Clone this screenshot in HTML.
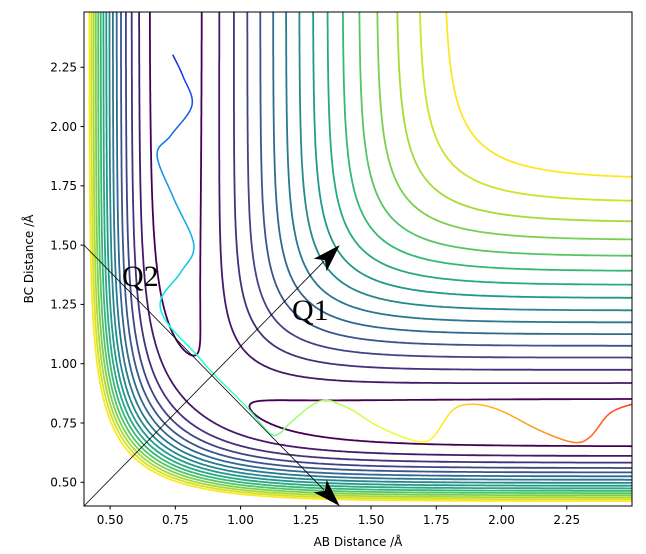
<!DOCTYPE html>
<html><head><meta charset="utf-8">
<style>
html,body{margin:0;padding:0;background:#fff;}
svg{display:block;}
text{font-family:"DejaVu Sans","Liberation Sans",sans-serif;}
</style></head>
<body>
<svg id="chart" width="646" height="554" viewBox="0 0 646 554">
  <defs><clipPath id="plotclip"><rect x="84" y="12" width="548" height="494"/></clipPath></defs>
  <rect x="0" y="0" width="646" height="554" fill="#fff"/>
  <g id="contours" clip-path="url(#plotclip)"></g>
  <g id="traj" clip-path="url(#plotclip)"></g>
  <g id="arrows"></g>
  <rect x="84" y="12" width="548" height="494" fill="none" stroke="#000" stroke-width="1"/>
  <g id="xticks"></g>
  <g id="yticks"></g>
  <text x="358" y="546" font-size="12" text-anchor="middle">AB Distance /Å</text>
  <text x="0" y="0" font-size="12" text-anchor="middle" transform="translate(33,259) rotate(-90)">BC Distance /Å</text>
</svg>
<script>
// ---- data ----
const xTicks = [0.50, 0.75, 1.00, 1.25, 1.50, 1.75, 2.00, 2.25];
const yTicks = [0.50, 0.75, 1.00, 1.25, 1.50, 1.75, 2.00, 2.25];
const levelMin = -4.57;
const levelMax = -1.18;
const levelCount = 16;
const trajX = [0.741,0.780,0.814,0.733,0.680,0.745,0.821,0.771,0.695,0.718,0.833,0.894,1.024,1.112,1.151,1.189,1.304,1.407,1.534,1.675,1.737,1.813,1.890,1.993,2.146,2.273,2.338,2.415,2.499];
const trajY = [2.301,2.210,2.090,1.963,1.879,1.694,1.500,1.386,1.272,1.174,1.036,0.960,0.816,0.707,0.707,0.749,0.842,0.816,0.732,0.673,0.690,0.804,0.829,0.804,0.719,0.669,0.690,0.791,0.829];
const q1Start = [0.40, 0.40], q1End = [1.38, 1.50];
const q2Start = [0.40, 1.50], q2End = [1.38, 0.40];

// ---- axes ----
const X0=84, X1=632, Y0=506, Y1=12;
const xMin=0.4, xMax=2.5, yMin=0.4, yMax=2.483;
const sx = v => X0 + (v-xMin)/(xMax-xMin)*(X1-X0);
const sy = v => Y0 - (v-yMin)/(yMax-yMin)*(Y0-Y1);
const ix = p => xMin + (p-X0)/(X1-X0)*(xMax-xMin);
const iy = p => yMin + (Y0-p)/(Y0-Y1)*(yMax-yMin);
const NS="http://www.w3.org/2000/svg";
function mk(tag, attrs, parent){const e=document.createElementNS(NS,tag);for(const k in attrs)e.setAttribute(k,attrs[k]);parent.appendChild(e);return e;}

const gx=document.getElementById('xticks');
xTicks.forEach(v=>{
  const t=mk('line',{x1:sx(v),x2:sx(v),y1:506,y2:509.5,stroke:'#000','stroke-width':1},gx);
  
  
  const l=mk('text',{x:sx(v),y:524,'font-size':12,'text-anchor':'middle'},gx);
  l.textContent=v.toFixed(2);
  
  
});
const gy=document.getElementById('yticks');
yTicks.forEach(v=>{
  const t=mk('line',{x1:80.5,x2:84,y1:sy(v),y2:sy(v),stroke:'#000','stroke-width':1},gy);
  
  
  const l=mk('text',{x:77,y:sy(v)+4.3,'font-size':12,'text-anchor':'end'},gy);
  l.textContent=v.toFixed(2);
  
  
});

// ---- potential (LEPS-like) ----
const D=4.746, B=1.942, R0=0.742, S=0.686;
function QJ(r){const d=r-R0,e1=Math.exp(-B*d),e2=e1*e1;const E1=D*(e2-2*e1),E3=S*D/2*(e2+2*e1);return [(E1+E3)/2,(E1-E3)/2];}
function V(r1,r2){const a=QJ(r1),b=QJ(r2),c=QJ(r1+r2);
  const J=0.5*((a[1]-b[1])**2+(b[1]-c[1])**2+(c[1]-a[1])**2);
  return a[0]+b[0]+c[0]-Math.sqrt(J);}

// ---- viridis ----
const vir=[[68,1,84],[72,40,120],[62,74,137],[49,104,142],[38,130,142],[31,158,137],[53,183,121],[109,205,89],[180,222,44],[253,231,37]];
function viridis(t){t=Math.max(0,Math.min(1,t))*(vir.length-1);const i=Math.min(Math.floor(t),vir.length-2),f=t-i;
  const c=vir[i].map((v,k)=>Math.round(v+(vir[i+1][k]-v)*f));return `rgb(${c[0]},${c[1]},${c[2]})`;}

// ---- marching squares ----
const step=2;
const nx=Math.ceil((X1-X0)/step)+1, ny=Math.ceil((Y0-Y1)/step)+1;
const grid=[];
for(let j=0;j<ny;j++){const row=[];for(let i=0;i<nx;i++){row.push(V(ix(X0+i*step),iy(Y1+j*step)));}grid.push(row);}
const gc=document.getElementById('contours');
for(let k=0;k<levelCount;k++){
  const L=levelMin+(levelMax-levelMin)*k/(levelCount-1);
  let d='';
  for(let j=0;j<ny-1;j++)for(let i=0;i<nx-1;i++){
    const v0=grid[j][i],v1=grid[j][i+1],v2=grid[j+1][i+1],v3=grid[j+1][i];
    const px=X0+i*step,py=Y1+j*step;
    const pts=[];
    const ed=(a,b,ax,ay,bx,by)=>{if((a<L)!==(b<L)){const t=(L-a)/(b-a);pts.push([ax+(bx-ax)*t,ay+(by-ay)*t]);}};
    ed(v0,v1,px,py,px+step,py);
    ed(v1,v2,px+step,py,px+step,py+step);
    ed(v2,v3,px+step,py+step,px,py+step);
    ed(v3,v0,px,py+step,px,py);
    for(let m=0;m+1<pts.length;m+=2)d+=`M${pts[m][0].toFixed(1)},${pts[m][1].toFixed(1)}L${pts[m+1][0].toFixed(1)},${pts[m+1][1].toFixed(1)}`;
  }
  const p=mk('path',{d:d,fill:'none',stroke:viridis(k/(levelCount-1)),'stroke-width':1.8,'stroke-linecap':'round'},gc);
  
  
}

// ---- trajectory (Catmull-Rom, jet-like colored) ----
function jet(t){const r=Math.max(0,Math.min(1,1.5-Math.abs(4*t-3))),g=Math.max(0,Math.min(1,1.5-Math.abs(4*t-2))),b=Math.max(0,Math.min(1,1.5-Math.abs(4*t-1)));
  return `rgb(${Math.round(r*235+20)},${Math.round(g*235+20)},${Math.round(b*200+30)})`;}
const P=trajX.map((x,i)=>[sx(x),sy(trajY[i])]);
const dense=[];
for(let i=0;i<P.length-1;i++){
  const p0=P[Math.max(0,i-1)],p1=P[i],p2=P[i+1],p3=P[Math.min(P.length-1,i+2)];
  for(let s=0;s<10;s++){const t=s/10,t2=t*t,t3=t2*t;
    const f=k=>0.5*((2*p1[k])+(-p0[k]+p2[k])*t+(2*p0[k]-5*p1[k]+4*p2[k]-p3[k])*t2+(-p0[k]+3*p1[k]-3*p2[k]+p3[k])*t3);
    dense.push([f(0),f(1)]);}
}
dense.push(P[P.length-1]);
const gt=document.getElementById('traj');
for(let i=0;i<dense.length-1;i++){
  const t=0.15+0.68*i/(dense.length-2);
  const s=mk('line',{x1:dense[i][0],y1:dense[i][1],x2:dense[i+1][0],y2:dense[i+1][1],stroke:jet(t),'stroke-width':1.5,'stroke-linecap':'round'},gt);
  
  
}

// ---- arrows ----
const ga=document.getElementById('arrows');
function arrow(a,b,name){
  const x1=sx(a[0]),y1=sy(a[1]),x2=sx(b[0]),y2=sy(b[1]);
  const dx=x2-x1,dy=y2-y1,len=Math.hypot(dx,dy),ux=dx/len,uy=dy/len;
  const hl=28,hw=9;
  const bx=x2-ux*hl,by=y2-uy*hl;
  const ln=mk('line',{x1:x1,y1:y1,x2:bx+ux*6,y2:by+uy*6,stroke:'#000','stroke-width':0.8},ga);
  
  
  const nx_=-uy,ny_=ux;
  const pts=[[x2,y2],[bx+nx_*hw,by+ny_*hw],[bx+ux*7,by+uy*7],[bx-nx_*hw,by-ny_*hw]].map(p=>p[0].toFixed(1)+','+p[1].toFixed(1)).join(' ');
  const hd=mk('polygon',{points:pts,fill:'#000'},ga);
  
  
}
arrow(q1Start,q1End,'q1-arrow');
arrow(q2Start,q2End,'q2-arrow');
const t1=mk('text',{x:292,y:320,'font-size':30,style:'font-family:"Liberation Serif",serif'},ga);
t1.textContent='Q1';


const t2=mk('text',{x:122,y:286,'font-size':30,style:'font-family:"Liberation Serif",serif'},ga);
t2.textContent='Q2';


</script>
</body></html>
